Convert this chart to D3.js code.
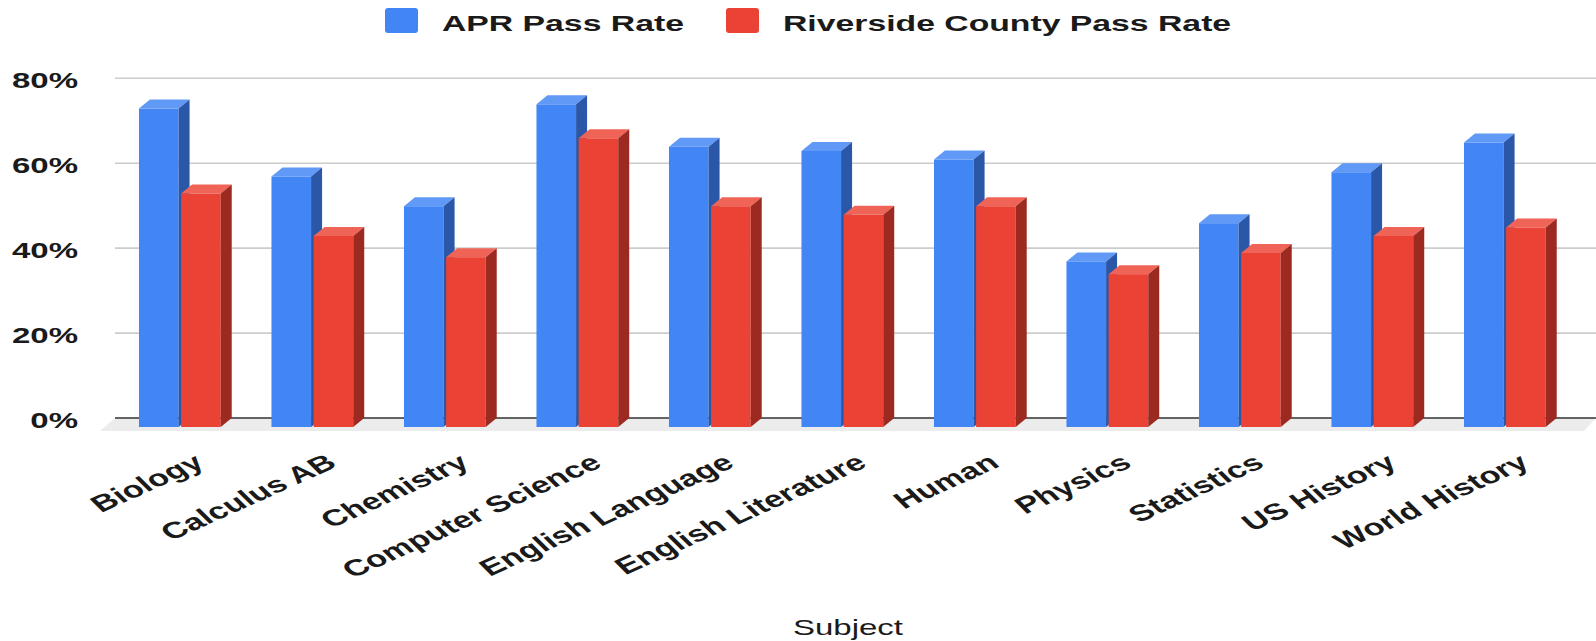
<!DOCTYPE html>
<meta charset="utf-8" />
<script src="https://d3js.org/d3.v7.js"></script>
<style>
  body { margin: 0; background: #fff; }
  text { font-family: "Liberation Sans", Arial, sans-serif; fill: #1a1a1a; }
</style>
<div id="chart"></div>
<script>
  // data
  const subjects = ["Biology", "Calculus AB", "Chemistry", "Computer Science", "English Language",
    "English Literature", "Human", "Physics", "Statistics", "US History", "World History"];
  const aprRate = [75, 59, 52, 76, 66, 65, 63, 39, 48, 60, 67];
  const riversideRate = [55, 45, 40, 68, 52, 50, 52, 36, 41, 45, 47];
  const seriesNames = ["APR Pass Rate", "Riverside County Pass Rate"];
  const yTicks = [0, 20, 40, 60, 80];

  const width = 1596, height = 641;
  const stretch = 1.5; // the picture is wider than it is tall, text is stretched
  const depthX = 11, depthY = 9;

  const colors = {
    front: ["#4285f4", "#ea4335"],
    top: ["#6199f6", "#ef6457"],
    side: ["#2a57a8", "#9c2a21"]
  };

  const svg = d3.select("#chart").append("svg")
    .attr("width", width).attr("height", height);

  const y = d3.scaleLinear().domain([0, 80]).range([418, 78.3]);
  const x0 = d3.scaleBand().domain(subjects).range([113.6, 1571.1])
    .paddingInner(0.383).paddingOuter(0.1915);
  const x1 = d3.scaleBand().domain(seriesNames).range([0, x0.bandwidth()]).paddingInner(0.06);

  // floor
  svg.append("path")
    .attr("d", `M115,${y(0)} L${width},${y(0)} L${width - 12},${y(0) + 13} L100,${y(0) + 13} Z`)
    .attr("fill", "#ececec");

  // gridlines
  svg.append("g").selectAll("line")
    .data(yTicks.filter(d => d > 0))
    .enter().append("line")
    .attr("x1", 115).attr("x2", width)
    .attr("y1", d => y(d)).attr("y2", d => y(d))
    .attr("stroke", "#cccccc").attr("stroke-width", 1.6);

  svg.append("line")
    .attr("x1", 115).attr("x2", width)
    .attr("y1", y(0)).attr("y2", y(0))
    .attr("stroke", "#333").attr("stroke-width", 1.6);

  // y labels
  svg.append("g").selectAll("text")
    .data(yTicks)
    .enter().append("text")
    .attr("transform", d => `translate(78,${y(d) + 9.5}) scale(${stretch},1)`)
    .attr("text-anchor", "end")
    .style("font-size", "22px").style("font-weight", "bold")
    .text(d => d + "%");

  // bars
  const rows = subjects.map((s, i) => ({ subject: s, values: [aprRate[i], riversideRate[i]] }));
  const groups = svg.append("g").selectAll("g")
    .data(rows)
    .enter().append("g")
    .attr("transform", d => `translate(${x0(d.subject)},0)`);

  const w = x1.bandwidth();
  seriesNames.forEach(function (name, k) {
    const bx = x1(name);
    const yTop = d => y(d.values[k]) + depthY;
    const yBot = y(0) + depthY;
    groups.append("rect")
      .attr("x", bx).attr("y", yTop)
      .attr("width", w).attr("height", d => yBot - yTop(d))
      .attr("fill", colors.front[k]);
    groups.append("path")
      .attr("d", d => `M${bx},${yTop(d)} L${bx + w},${yTop(d)} L${bx + w + depthX},${yTop(d) - depthY} L${bx + depthX},${yTop(d) - depthY} Z`)
      .attr("fill", colors.top[k]);
    groups.append("path")
      .attr("d", d => `M${bx + w},${yTop(d)} L${bx + w + depthX},${yTop(d) - depthY} L${bx + w + depthX},${yBot - depthY} L${bx + w},${yBot} Z`)
      .attr("fill", colors.side[k]);
  });

  // x labels
  svg.append("g").selectAll("text")
    .data(subjects)
    .enter().append("text")
    .attr("transform", d => `translate(${x0(d) + x0.bandwidth() / 2 + 26},466) scale(${stretch},1) rotate(-34)`)
    .attr("text-anchor", "end")
    .style("font-size", "23px").style("font-weight", "bold")
    .text(d => d);

  // axis title
  svg.append("text")
    .attr("transform", `translate(848,635) scale(${stretch},1)`)
    .attr("text-anchor", "middle")
    .style("font-size", "22px")
    .text("Subject");

  // legend
  const legendX = [385, 726];
  const legend = svg.append("g").selectAll("g")
    .data(seriesNames)
    .enter().append("g")
    .attr("transform", (d, i) => `translate(${legendX[i]},8)`);
  legend.append("rect")
    .attr("width", 33).attr("height", 25).attr("rx", 3)
    .attr("fill", (d, i) => colors.front[i]);
  legend.append("text")
    .attr("transform", `translate(57,22.7) scale(${stretch},1)`)
    .style("font-size", "22.5px").style("font-weight", "bold")
    .text(d => d);
</script>
